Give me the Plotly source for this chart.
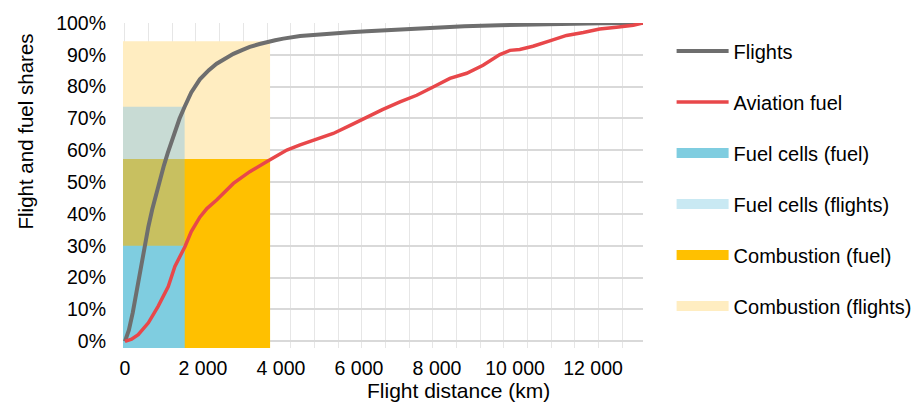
import plotly.graph_objects as go

# ---- data ----
FLIGHTS_KM = [0, 100, 200, 300, 400, 500, 600, 700, 800, 900, 1000, 1100, 1200, 1300,
              1400, 1530, 1700, 1920, 2150, 2350, 2600, 2780, 3000, 3200, 3450, 3630,
              3850, 4060, 4490, 5000, 5340, 5770, 6200, 7000, 7900, 8700, 9600, 10500,
              11300, 12200, 13280]
FLIGHTS_SHARE = [0, 3.5, 9, 16, 23.5, 30, 36, 41.5, 46.5, 51, 55.3, 59.3, 63, 66.5,
                 70, 73.7, 78.2, 82.3, 85.2, 87.2, 89.1, 90.3, 91.5, 92.5, 93.4, 94,
                 94.6, 95.1, 95.9, 96.4, 96.8, 97.1, 97.4, 98, 98.6, 99, 99.3, 99.6,
                 99.8, 99.9, 100]

AVFUEL_KM = [0, 170, 340, 600, 850, 1110, 1280, 1540, 1700, 1920, 2100, 2350, 2780, 3200,
             3630, 4150, 4490, 5000, 5340, 5800, 6200, 6600, 7050, 7480, 7900, 8330, 8760,
             9180, 9610, 9870, 10120, 10460, 10890, 11320, 11750, 12170, 12600, 13030, 13280]
AVFUEL_SHARE = [0, 0.7, 2.1, 5.8, 11, 17.2, 23.5, 29.8, 34.5, 39, 41.7, 44.4, 49.6, 53.3,
                56.4, 60.1, 61.7, 63.8, 65.3, 68, 70.5, 72.8, 75.2, 77.3, 79.9, 82.6, 84.2,
                86.7, 90.1, 91.4, 91.7, 92.7, 94.4, 96.1, 97, 98.1, 98.7, 99.3, 100]

FC_RANGE_KM = 1530
FC_FUEL = 30
FC_FLIGHTS = 73.7
COMB_RANGE_KM = 3720
COMB_FUEL = 57.3
COMB_FLIGHTS = 94.3

X_TICKS = [0, 2000, 4000, 6000, 8000, 10000, 12000]
Y_TICKS = [0, 10, 20, 30, 40, 50, 60, 70, 80, 90, 100]
Y_TICK_LABELS = [f"{v}%" for v in Y_TICKS]

X_RANGE = [-50, 13280]
Y_RANGE = [-2.1, 100]

FONT = "Liberation Sans, Arial, sans-serif"
COL = {
    "Combustion (flights)": "#FFEDC1",
    "Combustion (fuel)": "#FFC000",
    "Fuel cells (flights)": "rgba(117,192,240,0.4)",
    "Fuel cells (fuel)": "#7FCDE0",
}
LEGEND_COL = {
    "Combustion (flights)": "#FFEDC1",
    "Combustion (fuel)": "#FFC000",
    "Fuel cells (flights)": "#C9E9F3",
    "Fuel cells (fuel)": "#7FCDE0",
}


def box(name, xmax, ymax):
    x0, y0 = X_RANGE[0], Y_RANGE[0]
    return go.Scatter(
        x=[x0, x0, xmax, xmax, x0], y=[y0, ymax, ymax, y0, y0],
        mode="lines", fill="toself", fillcolor=COL[name],
        line=dict(width=0, color=COL[name]),
        name=name, showlegend=False, hoverinfo="skip",
    )


def legend_swatch(name, rank):
    return go.Scatter(x=[None], y=[None], mode="lines", name=name,
                      line=dict(color=LEGEND_COL[name], width=20),
                      legendrank=rank, legendgroup=name)


fig = go.Figure()
fig.add_trace(box("Combustion (flights)", COMB_RANGE_KM, COMB_FLIGHTS))
fig.add_trace(box("Combustion (fuel)", COMB_RANGE_KM, COMB_FUEL))
fig.add_trace(box("Fuel cells (flights)", FC_RANGE_KM, FC_FLIGHTS))
fig.add_trace(box("Fuel cells (fuel)", FC_RANGE_KM, FC_FUEL))

fig.add_trace(go.Scatter(x=FLIGHTS_KM, y=FLIGHTS_SHARE, mode="lines", name="Flights",
                         line=dict(color="#6E6E6E", width=4),
                         legendrank=1, legendgroup="Flights"))
fig.add_trace(go.Scatter(x=AVFUEL_KM, y=AVFUEL_SHARE, mode="lines", name="Aviation fuel",
                         line=dict(color="#E8474A", width=3.5),
                         legendrank=2, legendgroup="Aviation fuel"))

fig.add_trace(legend_swatch("Fuel cells (fuel)", 3))
fig.add_trace(legend_swatch("Fuel cells (flights)", 4))
fig.add_trace(legend_swatch("Combustion (fuel)", 5))
fig.add_trace(legend_swatch("Combustion (flights)", 6))

fig.update_layout(
    width=916, height=395,
    margin=dict(l=115, r=281, t=15, b=55, autoexpand=False),
    paper_bgcolor="white", plot_bgcolor="white",
    font=dict(family=FONT, size=19.5, color="#000000"),
    separators=". ",
    showlegend=True,
    legend=dict(x=1.055, y=0.974, xanchor="left", yanchor="top",
                traceorder="grouped", tracegroupgap=22, itemwidth=52,
                font=dict(size=20), bgcolor="rgba(0,0,0,0)"),
    xaxis=dict(range=X_RANGE, tickmode="array", tickvals=X_TICKS, tickformat=",d",
               showgrid=False, zeroline=False, showline=False, ticks="",
               ticklabelstandoff=6, automargin=False,
               minor=dict(tickmode="linear", tick0=0, dtick=607, showgrid=True,
                          gridcolor="#E6E6E6", gridwidth=1, ticks="")),
    yaxis=dict(range=Y_RANGE, tickmode="array", tickvals=Y_TICKS, ticktext=Y_TICK_LABELS,
               showgrid=True, gridcolor="#D9D9D9", gridwidth=1.5, zeroline=False,
               showline=False, ticks="", ticklabelstandoff=16, automargin=False),
    annotations=[
        dict(text="Flight distance (km)", xref="paper", yref="paper",
             x=0.646, y=-0.131, xanchor="center", yanchor="middle",
             showarrow=False, font=dict(size=21)),
        dict(text="Flight and fuel shares", xref="paper", yref="paper",
             x=-0.188, y=0.667, xanchor="center", yanchor="middle", textangle=-90,
             showarrow=False, font=dict(size=20.5)),
    ],
)

fig.write_html("out.html")
